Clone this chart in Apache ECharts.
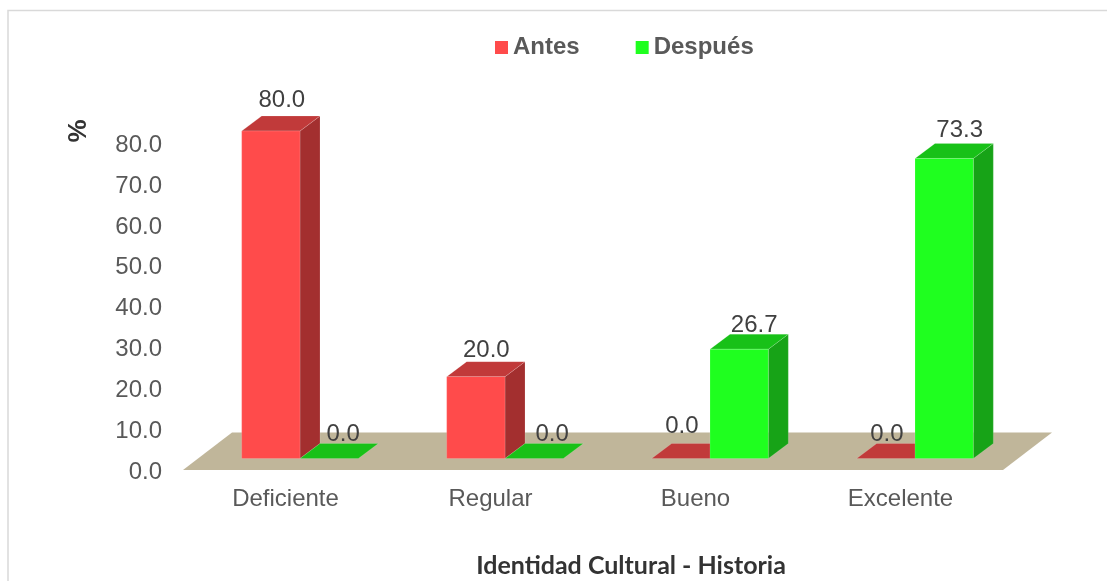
<!DOCTYPE html>
<html><head><meta charset="utf-8">
<style>html,body{margin:0;padding:0;background:#fff}#c{width:1107px;height:581px}</style>
<script src="https://cdn.jsdelivr.net/npm/echarts@6/dist/echarts.min.js"></script>
</head><body><div id="c"></div>
<script>
var categories = ['Deficiente','Regular','Bueno','Excelente'];
var antes = [80.0,20.0,0.0,0.0];
var despues = [0.0,0.0,26.7,73.3];
var yTicks = {min:0,max:80,interval:10};

// hand-placed data label nudges (x from bar front centre, y from bar front top)
var antesNudge = [[11,-31],[10.5,-26],[1,-32],[1,-24]];
var despuesNudge = [[14,-24],[18,-24],[15,-24],[15.5,-28]];

var FONT = '"Liberation Sans", Arial, sans-serif';
var BAR_DX = 14.5, BAR_DY = -11.5, DEPTH_X = 20, DEPTH_Y = 15, BAR_RATIO = 0.2845;

function barRender(side, nudges, front, top, dark){
  return function(params, api){
    var i = api.value(0), v = api.value(1);
    var p = api.coord([i, v]), b = api.coord([i, 0]);
    var w = api.size([1,0])[0] * BAR_RATIO;
    var x0 = p[0] + BAR_DX + (side < 0 ? -w : 0), x1 = x0 + w;
    var yT = p[1] + BAR_DY, yB = b[1] + BAR_DY;
    var kids = [];
    var edge = {stroke:'rgba(255,255,255,0.25)', lineWidth:0.6};
    if (v > 0) {
      kids.push({type:'polygon', shape:{points:[[x1,yT],[x1+DEPTH_X,yT-DEPTH_Y],[x1+DEPTH_X,yB-DEPTH_Y],[x1,yB]]}, style:Object.assign({fill:dark},edge)});
    }
    kids.push({type:'polygon', shape:{points:[[x0,yT],[x0+DEPTH_X,yT-DEPTH_Y],[x1+DEPTH_X,yT-DEPTH_Y],[x1,yT]]}, style:Object.assign({fill:top},edge)});
    if (v > 0) {
      kids.push({type:'rect', shape:{x:x0,y:yT,width:w,height:yB-yT}, style:Object.assign({fill:front},edge)});
    }
    var n = nudges[i];
    kids.push({type:'text', z2:10, style:{text:v.toFixed(1), x:(x0+x1)/2+n[0], y:yT+n[1], align:'center', verticalAlign:'middle', font:'24px '+FONT, fill:'#404040'}});
    return {type:'group', children:kids};
  };
}
function floorRender(params, api){
  var c = params.coordSys, bottom = c.y + c.height, dx = 49, dy = 37.5;
  return {type:'polygon', shape:{points:[[c.x,bottom],[c.x+dx,bottom-dy],[c.x+c.width+dx,bottom-dy],[c.x+c.width,bottom]]}, style:{fill:'#C0B69A'}};
}
function seriesOf(name, values, side, nudges, front, top, dark, z){
  return {type:'custom', name:name, z:z, clip:false, coordinateSystem:'cartesian2d', encode:{x:0,y:1},
    itemStyle:{color:front}, renderItem:barRender(side,nudges,front,top,dark),
    data:values.map(function(v,i){return [i,v];})};
}
var chart = echarts.init(document.getElementById('c'), null, {renderer:'canvas'});
chart.setOption({
  animation:false,
  backgroundColor:'#fff',
  grid:{left:183,width:820,top:142.5,height:327.5,containLabel:false},
  legend:{left:490,top:30.5,data:['Antes','Después'],icon:'rect',itemWidth:13,itemHeight:13,itemGap:56,selectedMode:false,
    textStyle:{fontFamily:FONT,fontWeight:'bold',fontSize:24,color:'#595959'}},
  title:{text:'Identidad Cultural - Historia',left:626,textAlign:'center',top:548.5,textStyle:{fontFamily:'Lato',fontWeight:'bold',fontSize:25,color:'#333'}},
  xAxis:{type:'category',data:categories,axisLine:{show:false},axisTick:{show:false},splitLine:{show:false},
    axisLabel:{margin:17,fontFamily:FONT,fontSize:24,color:'#595959'}},
  yAxis:{type:'value',min:yTicks.min,max:yTicks.max,interval:yTicks.interval,axisLine:{show:false},axisTick:{show:false},splitLine:{show:false},
    axisLabel:{margin:21,color:'#595959',formatter:function(v){return '{t|'+v.toFixed(1)+'}';},
      rich:{t:{fontFamily:FONT,fontSize:24,color:'#595959',padding:[5,0,0,0]}}}},
  graphic:[
    {type:'rect',silent:true,z:-10,shape:{x:8,y:10.5,width:1200,height:700},style:{fill:'none',stroke:'#D9D9D9',lineWidth:1.5}},
    {type:'text',x:78.5,y:131,rotation:Math.PI/2,style:{text:'%',align:'center',verticalAlign:'middle',font:'bold 26px '+FONT,fill:'#333'}}
  ],
  series:[
    {type:'custom',name:'floor',z:1,clip:false,renderItem:floorRender,data:[[0,0]],encode:{x:0,y:1},silent:true},
    seriesOf('Antes',antes,-1,antesNudge,'#FF4B4B','#C13A3A','#A32F2F',2),
    seriesOf('Después',despues,1,despuesNudge,'#1FFF1F','#18C118','#17A317',3)
  ]
});
</script></body></html>
